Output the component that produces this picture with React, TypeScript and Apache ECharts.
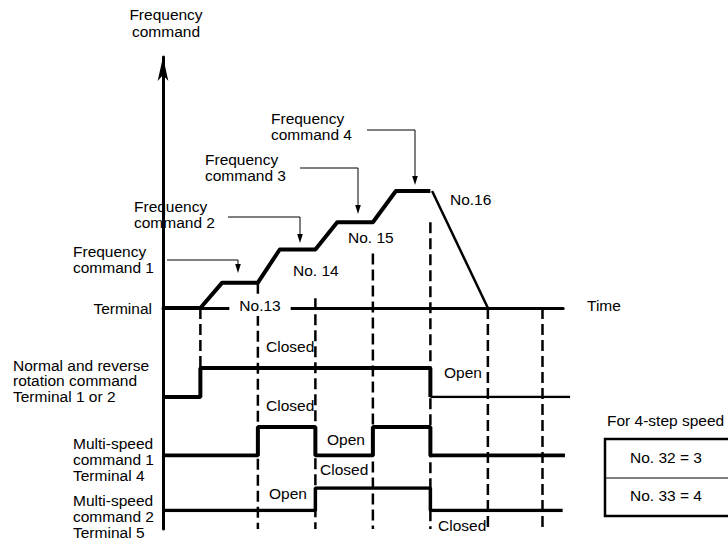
import React, { useEffect, useRef } from "react";
import * as echarts from "echarts";

// ---- data (time in "steps", frequency in Hz-like units) ----
const eventTimes = [0.65, 1.65, 2.65, 3.65, 4.65, 5.65, 6.6];
const guideTops = [0, 13, 5, 28, 44, 0, 0];
const guideBottoms = [-46, null, null, null, null, null, null];

const freqT = [0, 0.65, 1.03, 1.65, 2.03, 2.65, 3.03, 3.65, 4.05, 4.65];
const freqF = [0, 0, 13, 13, 30, 30, 44, 44, 60, 60];
const decelT = [4.68, 5.65];
const decelF = [60, 0];
const timeAxisEnd = 6.96;

const runT = [0, 0.65, 4.65];
const runV = [0, 1, 0];
const runTailEnd = 7.08;
const ms1T = [0, 1.65, 2.65, 3.65, 4.65, 6.99];
const ms1V = [0, 1, 0, 1, 0, 0];
const ms2T = [0, 2.65, 4.65, 6.95];
const ms2V = [0, 1, 0, 0];

// ---- layout ----
const PX_PER_T = 57.5;
const PX_PER_F = 1.95;
const AXIS_X = 163;
const ZERO_Y = 308;
const TOP_Y = 57;
const BOTTOM_Y = 529;
const Y_MAX = (ZERO_Y - TOP_Y) / PX_PER_F;
const Y_MIN = -(BOTTOM_Y - ZERO_Y) / PX_PER_F;
const FONT = "'Liberation Sans', Arial, Helvetica, sans-serif";
const FS = 15.5;

const zip = (a: number[], b: number[]) => a.map((v, i) => [v, b[i]]);

function txt(text: string, x: number, y: number, align = "left", extra: any = {}) {
  return {
    type: "text",
    x,
    y,
    z: 100,
    silent: true,
    style: {
      text,
      fill: "#000",
      fontSize: FS,
      fontFamily: FONT,
      align,
      textAlign: align,
      verticalAlign: "middle",
      textVerticalAlign: "middle",
      lineHeight: 16,
      ...extra,
    },
  };
}

function leader(x0: number, y0: number, x1: number, yTip: number) {
  return [
    {
      type: "polyline",
      z: 100,
      silent: true,
      shape: { points: [[x0, y0], [x1, y0], [x1, yTip - 7]] },
      style: { stroke: "#000", lineWidth: 1, fill: "none" },
    },
    {
      type: "polygon",
      z: 100,
      silent: true,
      shape: { points: [[x1 - 2.8, yTip - 9], [x1 + 2.8, yTip - 9], [x1, yTip]] },
      style: { fill: "#000" },
    },
  ];
}

export default function App() {
  const ref = useRef<HTMLDivElement>(null);
  useEffect(() => {
    if (!ref.current) return;
    const chart = echarts.init(ref.current, undefined, { renderer: "svg" });

    const lanes = [
      { top: 368, height: 29, end: runTailEnd },
      { top: 427, height: 28.5, end: ms1T[ms1T.length - 1] },
      { top: 488, height: 22.5, end: ms2T[ms2T.length - 1] },
    ];

    const grids: any[] = [
      { left: AXIS_X, top: TOP_Y, width: timeAxisEnd * PX_PER_T, height: BOTTOM_Y - TOP_Y },
      ...lanes.map((l) => ({ left: AXIS_X, top: l.top, width: l.end * PX_PER_T, height: l.height })),
    ];

    const xAxes: any[] = [
      {
        gridIndex: 0,
        type: "value",
        min: 0,
        max: timeAxisEnd,
        axisLine: { show: true, onZero: true, lineStyle: { color: "#000", width: 3 } },
        axisTick: { show: false },
        axisLabel: { show: false },
        splitLine: { show: false },
      },
      ...lanes.map((l, i) => ({ gridIndex: i + 1, type: "value", min: 0, max: l.end, show: false })),
    ];
    const yAxes: any[] = [
      {
        gridIndex: 0,
        type: "value",
        min: Y_MIN,
        max: Y_MAX,
        axisLine: {
          show: true,
          symbol: ["none", "arrow"],
          symbolSize: [8, 24],
          lineStyle: { color: "#000", width: 3 },
        },
        axisTick: { show: false },
        axisLabel: { show: false },
        splitLine: { show: false },
      },
      ...lanes.map((l, i) => ({ gridIndex: i + 1, type: "value", min: 0, max: 1, show: false })),
    ];

    const base = {
      type: "line",
      symbol: "none",
      silent: true,
      color: "#000",
    };

    const guideSeries = eventTimes.map((t, i) => ({
      ...base,
      xAxisIndex: 0,
      yAxisIndex: 0,
      z: 1,
      data: [
        [t, guideTops[i]],
        [t, guideBottoms[i] ?? Y_MIN],
      ],
      lineStyle: { color: "#000", width: 2.5, type: [11, 5] },
    }));

    const series: any[] = [
      ...guideSeries,
      {
        ...base,
        xAxisIndex: 0,
        yAxisIndex: 0,
        z: 5,
        data: zip(freqT, freqF),
        lineStyle: { color: "#000", width: 4, join: "round" },
      },
      {
        ...base,
        xAxisIndex: 0,
        yAxisIndex: 0,
        z: 5,
        data: zip(decelT, decelF),
        lineStyle: { color: "#000", width: 2.5 },
      },
      {
        ...base,
        xAxisIndex: 1,
        yAxisIndex: 1,
        z: 5,
        step: "end",
        data: zip(runT, runV),
        lineStyle: { color: "#000", width: 4 },
      },
      {
        ...base,
        xAxisIndex: 1,
        yAxisIndex: 1,
        z: 5,
        data: [
          [runT[runT.length - 1], 0],
          [runTailEnd, 0],
        ],
        lineStyle: { color: "#000", width: 2.5 },
      },
      {
        ...base,
        xAxisIndex: 2,
        yAxisIndex: 2,
        z: 5,
        step: "end",
        data: zip(ms1T, ms1V),
        lineStyle: { color: "#000", width: 4 },
      },
      {
        ...base,
        xAxisIndex: 3,
        yAxisIndex: 3,
        z: 5,
        step: "end",
        data: zip(ms2T, ms2V),
        lineStyle: { color: "#000", width: 3.5 },
      },
    ];

    const graphic: any[] = [
      txt("Frequency\ncommand", 166, 22.5, "center", { lineHeight: 17 }),
      txt("Frequency\ncommand 4", 271, 126),
      txt("Frequency\ncommand 3", 205, 167),
      txt("Frequency\ncommand 2", 134, 214.5),
      txt("Frequency\ncommand 1", 73, 259.5),
      ...leader(367, 130, 415, 185),
      ...leader(300, 168, 358, 214),
      ...leader(228, 217, 300, 243),
      ...leader(167, 260, 238, 273),
      txt("Terminal", 152, 308, "right"),
      txt("Normal and reverse\nrotation command\nTerminal 1 or 2", 13, 380.5, "left", { lineHeight: 15.5 }),
      txt("Multi-speed\ncommand 1\nTerminal 4", 73, 459.5),
      txt("Multi-speed\ncommand 2\nTerminal 5", 73, 516),
      txt("No.13", 260, 305, "center", { backgroundColor: "#fff", padding: [3, 10] }),
      txt("No. 14", 293, 270),
      txt("No. 15", 348, 237),
      txt("No.16", 450, 199),
      txt("Closed", 266, 346),
      txt("Closed", 266, 405),
      txt("Open", 444, 372),
      txt("Open", 327, 439),
      txt("Closed", 320, 469.5),
      txt("Open", 269, 493),
      txt("Closed", 438, 525),
      txt("Time", 587, 305),
      txt("For 4-step speed", 607, 420),
      {
        type: "rect",
        z: 100,
        silent: true,
        shape: { x: 605, y: 439, width: 150, height: 77 },
        style: { stroke: "#000", lineWidth: 2.5, fill: "none" },
      },
      {
        type: "line",
        z: 100,
        silent: true,
        shape: { x1: 605, y1: 478, x2: 728, y2: 478 },
        style: { stroke: "#000", lineWidth: 1 },
      },
      txt("No. 32 = 3", 630, 457),
      txt("No. 33 = 4", 630, 495.5),
    ];

    chart.setOption({
      animation: false,
      backgroundColor: "#fff",
      grid: grids,
      xAxis: xAxes,
      yAxis: yAxes,
      series,
      graphic,
    });
    return () => chart.dispose();
  }, []);

  return (
    <div
      ref={ref}
      style={{ position: "fixed", left: 0, top: 0, width: 728, height: 539, background: "#fff" }}
    />
  );
}
